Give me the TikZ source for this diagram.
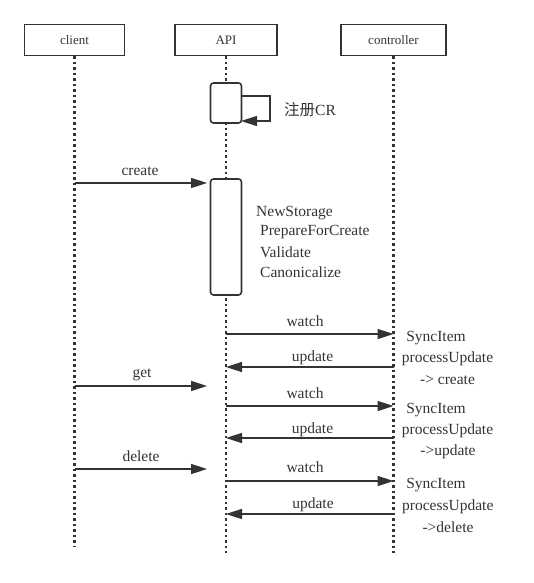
\documentclass[tikz,border=0pt]{standalone}
\usepackage{fontspec}
\setmainfont{Liberation Serif}
\newfontfamily\cjk{Noto Sans CJK SC}
\usetikzlibrary{arrows.meta}
\definecolor{ink}{HTML}{333333}
\begin{document}
\begin{tikzpicture}[x=1pt,y=-1pt,
  hdr/.style={draw=ink, line width=1.8pt, minimum height=31pt, inner sep=0pt, text=ink, font=\fontsize{13}{15}\selectfont},
  life/.style={draw=ink, line width=2.2pt, dash pattern=on 2.5pt off 3pt},
  act/.style={draw=ink, fill=white, line width=1.6pt, rounded corners=3pt, inner sep=0pt, minimum width=31pt},
  msg/.style={draw=ink, line width=1.6pt, -{Triangle[length=16pt,width=10pt]}},
  lbl/.style={font=\fontsize{15.5}{18}\selectfont, inner sep=0pt, text=ink},
]
\useasboundingbox (0,0) rectangle (533,583);

% headers
\node[hdr, minimum width=100pt] (client) at (74.5,40) {client};
\node[hdr, minimum width=102pt] (api) at (226,40) {API};
\node[hdr, minimum width=105pt] (ctrl) at (393.5,40) {controller};

% lifeline ends
\coordinate (cEnd) at (74.5,547);
\coordinate (aEnd) at (226,553);
\coordinate (kEnd) at (393.5,553);
\draw[life] (client.south) -- (cEnd);
\draw[life] (api.south) -- (aEnd);
\draw[life] (ctrl.south) -- (kEnd);

% activation boxes
\node[act, minimum height=40pt] (act1) at (226,103) {};
\node[act, minimum height=116pt] (act2) at (226,237) {};

% self message
\coordinate (s1) at (241,96);
\coordinate (s2) at (270,96);
\coordinate (s3) at (270,121);
\coordinate (s4) at (241,121);
\draw[msg, line width=1.4pt] (s1) -- (s2) -- (s3) -- (s4);
\node[lbl, anchor=west] (reg) at (284,110) {{\cjk 注册}CR};

% create
\coordinate (cr1) at (74.5,183);
\coordinate (cr2) at (207,183);
\draw[msg] (cr1) -- (cr2);
\node[lbl] (lcreate) at (140,171.5) {create};

\node[lbl, anchor=west] (t1) at (256,212.7) {NewStorage};
\node[lbl, anchor=west] (t2) at (260,232.5) {PrepareForCreate};
\node[lbl, anchor=west] (t3) at (260,252.5) {Validate};
\node[lbl, anchor=west] (t4) at (260,271.7) {Canonicalize};

% round 1
\coordinate (w1a) at (226,334);
\coordinate (w1b) at (393.5,334);
\draw[msg] (w1a) -- (w1b);
\node[lbl] (lw1) at (305,321.5) {watch};
\coordinate (u1a) at (393.5,367);
\coordinate (u1b) at (226,367);
\draw[msg] (u1a) -- (u1b);
\node[lbl] (lu1) at (312.5,358) {update};
\node[lbl] (si1) at (436,338.5) {SyncItem};
\node[lbl] (pu1) at (447.5,359) {processUpdate};
\node[lbl] (r1) at (447.5,380) {-> create};

% get
\coordinate (g1) at (74.5,386);
\coordinate (g2) at (207,386);
\draw[msg] (g1) -- (g2);
\node[lbl] (lget) at (142,374.5) {get};

% round 2
\coordinate (w2a) at (226,406);
\coordinate (w2b) at (393.5,406);
\draw[msg] (w2a) -- (w2b);
\node[lbl] (lw2) at (305,393) {watch};
\coordinate (u2a) at (393.5,438);
\coordinate (u2b) at (226,438);
\draw[msg] (u2a) -- (u2b);
\node[lbl] (lu2) at (312.5,429.5) {update};
\node[lbl] (si2) at (436,410) {SyncItem};
\node[lbl] (pu2) at (447.5,431) {processUpdate};
\node[lbl] (r2) at (448,451.7) {->update};

% delete
\coordinate (d1) at (74.5,469);
\coordinate (d2) at (207,469);
\draw[msg] (d1) -- (d2);
\node[lbl] (ldel) at (141,456.5) {delete};

% round 3
\coordinate (w3a) at (226,481);
\coordinate (w3b) at (393.5,481);
\draw[msg] (w3a) -- (w3b);
\node[lbl] (lw3) at (305,467.5) {watch};
\coordinate (u3a) at (393.5,514);
\coordinate (u3b) at (226,514);
\draw[msg] (u3a) -- (u3b);
\node[lbl] (lu3) at (313,504.5) {update};
\node[lbl] (si3) at (436,485) {SyncItem};
\node[lbl] (pu3) at (447.8,507) {processUpdate};
\node[lbl] (r3) at (448,527) {->delete};
\end{tikzpicture}
\end{document}
